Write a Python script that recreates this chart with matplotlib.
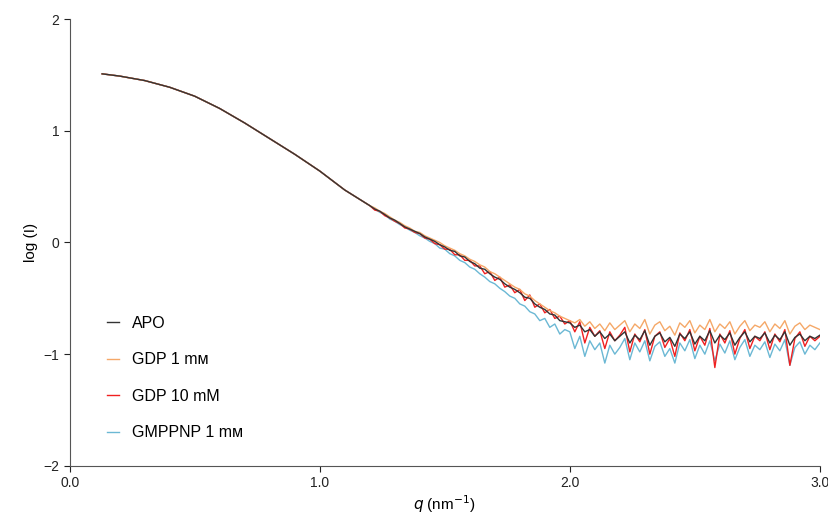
import numpy as np
import matplotlib
matplotlib.use('Agg')
import matplotlib.pyplot as plt
from matplotlib.ticker import FormatStrFormatter

plt.rcParams['font.family'] = ['Liberation Sans', 'DejaVu Sans']

# 平滑段（四条曲线几乎重合）
q_smooth = [0.13, 0.2, 0.3, 0.4, 0.5, 0.6, 0.7, 0.8, 0.9, 1.0, 1.1]
logi_smooth = [1.51, 1.49, 1.45, 1.39, 1.31, 1.20, 1.07, 0.93, 0.79, 0.64, 0.47]

# 噪声段 q = 1.20 ... 3.00，步长 0.02
q_tail = np.round(np.arange(1.20, 3.001, 0.02), 2)

apo = [0.33, 0.30, 0.28, 0.25, 0.22, 0.20, 0.17, 0.14, 0.12, 0.10,
       0.08, 0.05, 0.03, 0.01, -0.02, -0.04, -0.07, -0.08, -0.12, -0.13,
       -0.17, -0.19, -0.23, -0.24, -0.28, -0.31, -0.33, -0.37, -0.40, -0.42,
       -0.45, -0.49, -0.50, -0.55, -0.58, -0.60, -0.64, -0.65, -0.70, -0.71,
       -0.72, -0.76, -0.74, -0.80, -0.78, -0.84, -0.80, -0.86, -0.82, -0.88,
       -0.84, -0.80, -0.90, -0.83, -0.87, -0.79, -0.92, -0.84, -0.81, -0.89,
       -0.85, -0.93, -0.82, -0.86, -0.80, -0.91, -0.84, -0.88, -0.79, -0.90,
       -0.83, -0.87, -0.81, -0.92, -0.85, -0.80, -0.89, -0.84, -0.86, -0.81,
       -0.90, -0.83, -0.87, -0.80, -0.92, -0.85, -0.82, -0.88, -0.84, -0.86,
       -0.83]
gdp1 = [0.33, 0.31, 0.28, 0.26, 0.23, 0.20, 0.18, 0.15, 0.13, 0.10,
        0.09, 0.06, 0.04, 0.02, 0.00, -0.03, -0.05, -0.07, -0.10, -0.12,
        -0.15, -0.17, -0.20, -0.22, -0.26, -0.28, -0.31, -0.34, -0.37, -0.40,
        -0.42, -0.46, -0.48, -0.52, -0.55, -0.58, -0.61, -0.63, -0.66, -0.68,
        -0.70, -0.72, -0.69, -0.75, -0.71, -0.77, -0.73, -0.79, -0.72, -0.78,
        -0.74, -0.70, -0.80, -0.73, -0.77, -0.69, -0.82, -0.74, -0.71, -0.79,
        -0.75, -0.83, -0.72, -0.76, -0.70, -0.81, -0.74, -0.78, -0.69, -0.80,
        -0.73, -0.77, -0.71, -0.82, -0.75, -0.70, -0.79, -0.74, -0.76, -0.71,
        -0.80, -0.73, -0.77, -0.70, -0.82, -0.75, -0.72, -0.78, -0.74, -0.76,
        -0.78]
gdp10 = [0.33, 0.29, 0.28, 0.24, 0.22, 0.19, 0.17, 0.13, 0.12, 0.09,
         0.08, 0.04, 0.03, -0.01, -0.02, -0.06, -0.06, -0.11, -0.11, -0.16,
         -0.16, -0.21, -0.21, -0.28, -0.26, -0.34, -0.31, -0.40, -0.38, -0.45,
         -0.42, -0.52, -0.47, -0.58, -0.55, -0.63, -0.60, -0.68, -0.66, -0.73,
         -0.70, -0.80, -0.71, -0.90, -0.76, -0.84, -0.79, -0.95, -0.80, -0.88,
         -0.83, -0.76, -0.98, -0.82, -0.89, -0.78, -1.00, -0.84, -0.80, -0.94,
         -0.86, -1.02, -0.81, -0.88, -0.78, -0.97, -0.84, -0.92, -0.77, -1.12,
         -0.82, -0.90, -0.79, -1.00, -0.86, -0.78, -0.95, -0.84, -0.88, -0.80,
         -0.96, -0.82, -0.89, -0.78, -1.10, -0.86, -0.80, -0.93, -0.84, -0.88,
         -0.84]
gmppnp = [0.33, 0.30, 0.27, 0.25, 0.21, 0.19, 0.16, 0.14, 0.11, 0.09,
          0.06, 0.04, 0.01, -0.01, -0.05, -0.06, -0.10, -0.12, -0.16, -0.18,
          -0.22, -0.24, -0.28, -0.31, -0.35, -0.37, -0.41, -0.44, -0.48, -0.50,
          -0.55, -0.57, -0.62, -0.64, -0.70, -0.68, -0.76, -0.73, -0.82, -0.78,
          -0.80, -0.95, -0.84, -1.02, -0.88, -0.96, -0.90, -1.08, -0.92, -1.00,
          -0.94, -0.86, -1.05, -0.90, -0.98, -0.88, -1.06, -0.93, -0.89, -1.02,
          -0.95, -1.08, -0.90, -0.97, -0.87, -1.04, -0.92, -1.00, -0.88, -1.06,
          -0.91, -0.99, -0.88, -1.05, -0.94, -0.87, -1.02, -0.92, -0.96, -0.89,
          -1.03, -0.91, -0.97, -0.87, -1.10, -0.94, -0.89, -1.00, -0.92, -0.96,
          -0.90]

series = [('GMPPNP 1 mᴍ', gmppnp, '#6bb8d4'),
          ('GDP 10 mM', gdp10, '#f02020'),
          ('GDP 1 mᴍ', gdp1, '#f5a868'),
          ('APO', apo, '#333333')]

fig = plt.figure(figsize=(8.29, 5.17), dpi=100)
ax = fig.add_axes([0.084, 0.099, 0.905, 0.864])

q_all = np.concatenate([q_smooth, q_tail])
for label, vals, color in series:
    ax.plot(q_all, np.concatenate([logi_smooth, vals]), color=color, lw=1.0, label=label)

ax.set_xlim(0, 3.0)
ax.set_ylim(-2, 2)
ax.set_xticks([0, 1, 2, 3])
ax.set_yticks([-2, -1, 0, 1, 2])
ax.xaxis.set_major_formatter(FormatStrFormatter('%.1f'))
for s in ['top', 'right']:
    ax.spines[s].set_visible(False)
ax.spines['left'].set_color('#555555')
ax.spines['bottom'].set_color('#555555')
ax.tick_params(labelsize=10, colors='#222222', length=4)
ax.set_xlabel('$q$ (nm$^{-1}$)', fontsize=11, labelpad=2)
ax.set_ylabel('log (I)', fontsize=11)

h, l = ax.get_legend_handles_labels()
order = [3, 2, 1, 0]
ax.legend([h[i] for i in order], [l[i] for i in order], loc='lower left',
          bbox_to_anchor=(0.03, 0.025), frameon=False, fontsize=11.5,
          handlelength=0.8, labelspacing=1.35)

plt.savefig('out.png')
